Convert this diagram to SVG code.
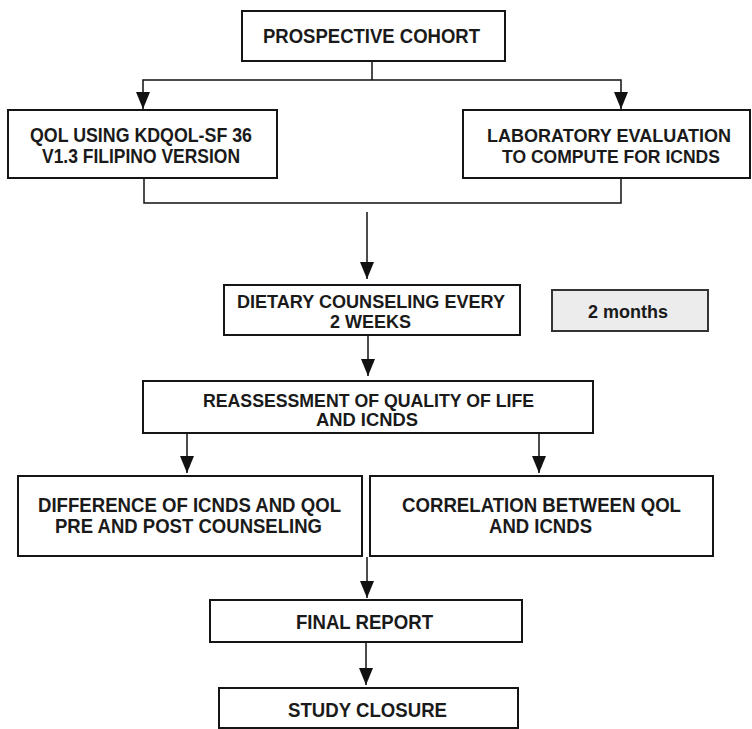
<svg xmlns="http://www.w3.org/2000/svg" width="752" height="729" viewBox="0 0 752 729">
<style>
  .box { fill: #ffffff; stroke: #151515; stroke-width: 2; }
  .grey { fill: #ececec; stroke: #333333; stroke-width: 2; }
  .t { font-family: "Liberation Sans", Arial, sans-serif; font-weight: bold; fill: #1a1a1a; text-anchor: middle; }
  .conn { fill: none; stroke: #111111; stroke-width: 1.5; }
</style>
<defs>
  <marker id="ah" markerUnits="userSpaceOnUse" markerWidth="17" markerHeight="16" viewBox="0 0 17 16" refX="17" refY="8" orient="auto">
    <path d="M0,1 L17,8 L0,15 Z" fill="#111111"/>
  </marker>
</defs>
<rect width="752" height="729" fill="#ffffff"/>

<g id="connectors">
  <path class="conn" d="M372,61 V80"/>
  <path class="conn" d="M372,80 H143 V109" marker-end="url(#ah)"/>
  <path class="conn" d="M372,80 H621 V109" marker-end="url(#ah)"/>
  <path class="conn" d="M144,178 V203 H621 V178"/>
  <path class="conn" d="M367,212 V279" marker-end="url(#ah)"/>
  <path class="conn" d="M368,336 V376" marker-end="url(#ah)"/>
  <path class="conn" d="M187,434 V473" marker-end="url(#ah)"/>
  <path class="conn" d="M539,434 V473" marker-end="url(#ah)"/>
  <path class="conn" d="M367,557 V598" marker-end="url(#ah)"/>
  <path class="conn" d="M366,643 V685" marker-end="url(#ah)"/>
</g>

<g id="prospective">
  <rect class="box" x="242" y="11" width="263" height="50"/>
  <text class="t" x="371.5" y="43" font-size="20" textLength="217" lengthAdjust="spacingAndGlyphs">PROSPECTIVE COHORT</text>
</g>

<g id="qol">
  <rect class="box" x="8" y="110" width="269" height="68"/>
  <text class="t" x="141" y="142" font-size="20" textLength="222" lengthAdjust="spacingAndGlyphs">QOL USING KDQOL-SF 36</text>
  <text class="t" x="141" y="163" font-size="20" textLength="198" lengthAdjust="spacingAndGlyphs">V1.3 FILIPINO VERSION</text>
</g>

<g id="lab">
  <rect class="box" x="463" y="110" width="287" height="68"/>
  <text class="t" x="609" y="142" font-size="18" textLength="244" lengthAdjust="spacingAndGlyphs">LABORATORY EVALUATION</text>
  <text class="t" x="611" y="163" font-size="19" textLength="218" lengthAdjust="spacingAndGlyphs">TO COMPUTE FOR ICNDS</text>
</g>

<g id="dietary">
  <rect class="box" x="224" y="285" width="296" height="50"/>
  <text class="t" x="371" y="308" font-size="18" textLength="268" lengthAdjust="spacingAndGlyphs">DIETARY COUNSELING EVERY</text>
  <text class="t" x="370.5" y="328" font-size="18" textLength="81" lengthAdjust="spacingAndGlyphs">2 WEEKS</text>
</g>

<g id="months">
  <rect class="grey" x="552" y="290" width="156" height="41"/>
  <text class="t" x="628" y="318" font-size="19" textLength="80" lengthAdjust="spacingAndGlyphs">2 months</text>
</g>

<g id="reassessment">
  <rect class="box" x="143" y="381" width="450" height="52"/>
  <text class="t" x="368.5" y="407" font-size="18" textLength="331" lengthAdjust="spacingAndGlyphs">REASSESSMENT OF QUALITY OF LIFE</text>
  <text class="t" x="367" y="426" font-size="18" textLength="102" lengthAdjust="spacingAndGlyphs">AND ICNDS</text>
</g>

<g id="difference">
  <rect class="box" x="18" y="476" width="344" height="80"/>
  <text class="t" x="189.5" y="512" font-size="19.5" textLength="303" lengthAdjust="spacingAndGlyphs">DIFFERENCE OF  ICNDS AND QOL</text>
  <text class="t" x="188.5" y="533" font-size="19.5" textLength="267" lengthAdjust="spacingAndGlyphs">PRE AND POST COUNSELING</text>
</g>

<g id="correlation">
  <rect class="box" x="370" y="476" width="343" height="80"/>
  <text class="t" x="541.5" y="512" font-size="19.5" textLength="279" lengthAdjust="spacingAndGlyphs">CORRELATION BETWEEN QOL</text>
  <text class="t" x="540.5" y="533" font-size="19.5" textLength="103" lengthAdjust="spacingAndGlyphs">AND ICNDS</text>
</g>

<g id="final">
  <rect class="box" x="210" y="600" width="312" height="42"/>
  <text class="t" x="364.5" y="629" font-size="19.5" textLength="137" lengthAdjust="spacingAndGlyphs">FINAL REPORT</text>
</g>

<g id="closure">
  <rect class="box" x="219" y="688" width="299" height="40"/>
  <text class="t" x="367.5" y="717" font-size="20" textLength="159" lengthAdjust="spacingAndGlyphs">STUDY CLOSURE</text>
</g>
</svg>
